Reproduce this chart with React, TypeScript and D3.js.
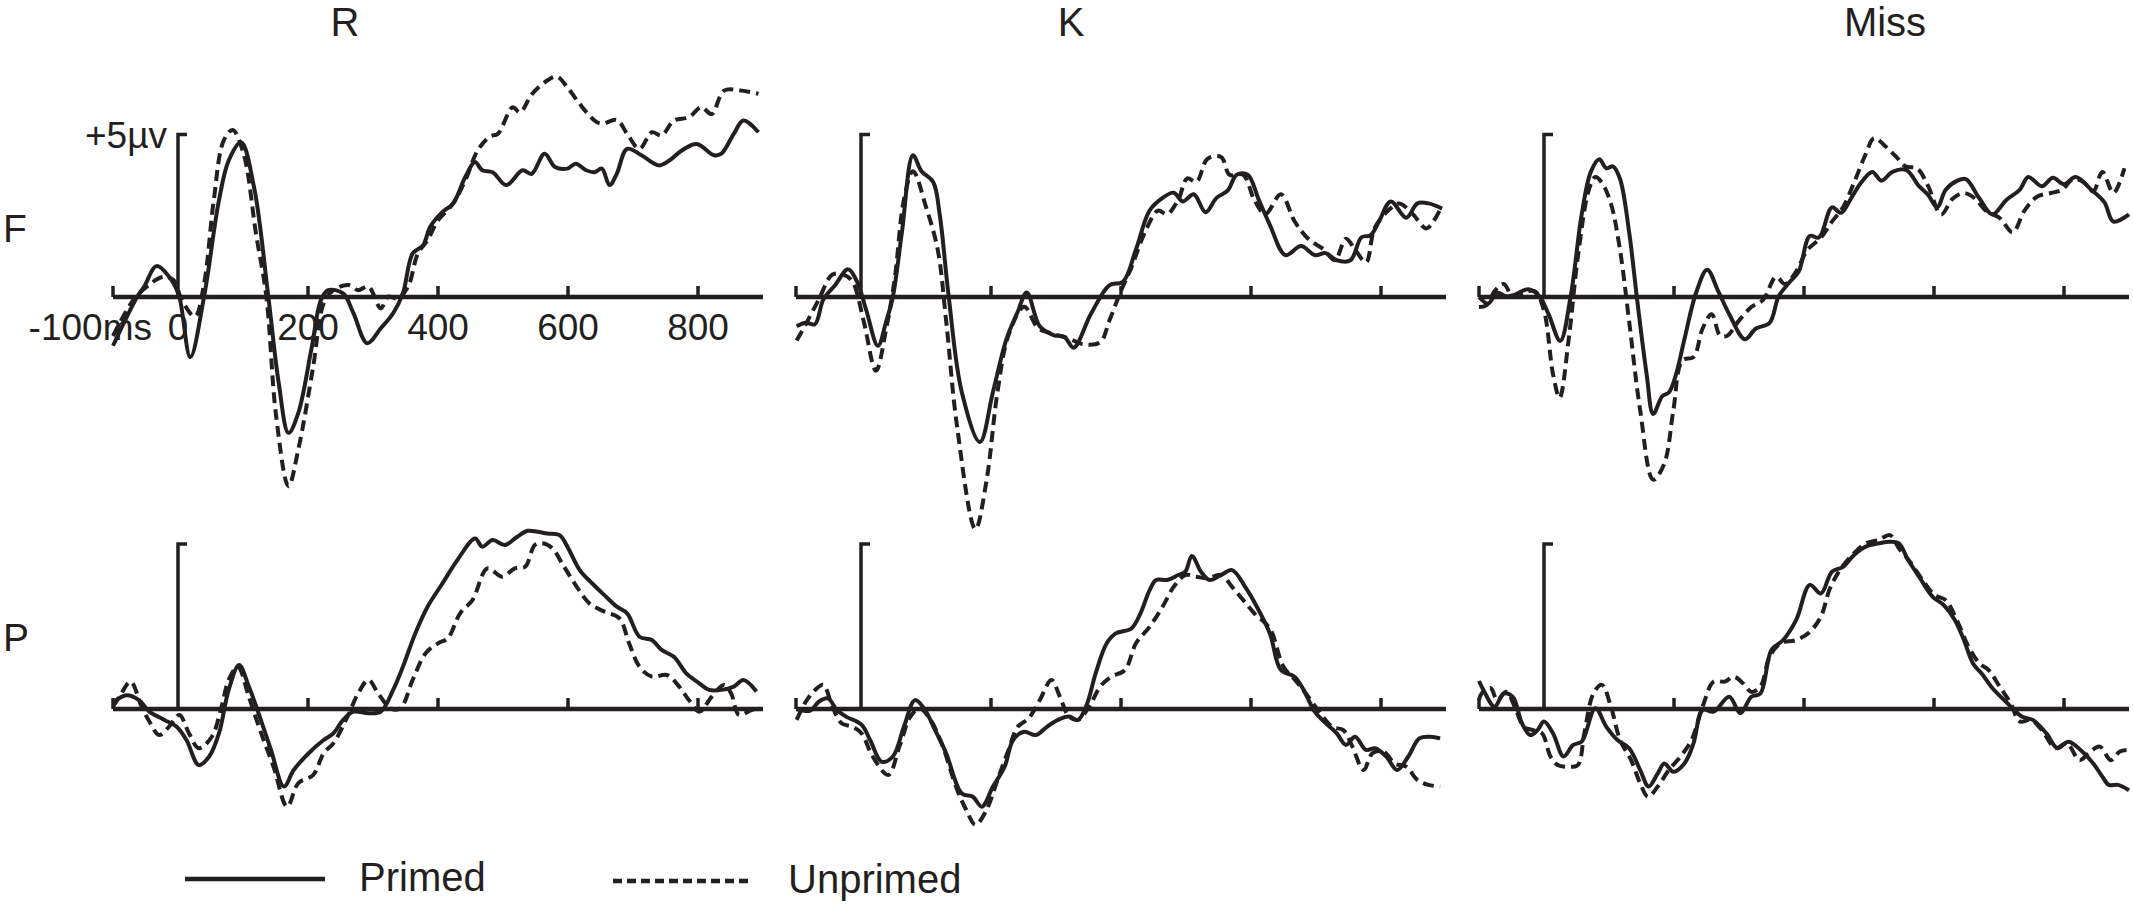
import React from 'react';
import * as d3 from 'd3';

// ---------- DATA (time in ms, amplitude in µV) ----------
const CONDITIONS = ['R', 'K', 'Miss'];
const SITES = ['F', 'P'];
const TIME_TICKS = [-100, 200, 400, 600, 800];
const TICK_LABEL_VALUES = [-100, 0, 200, 400, 600, 800];
const TICK_LABELS = ['-100ms', '0', '200', '400', '600', '800'];
const SCALE_BAR_UV = 5;
const SCALE_LABEL = '+5µv';
const LEGEND_LABELS = ['Primed', 'Unprimed'];

const R_F_primed: [number, number][] = [[-100,-1.5],[-63,0],[-52,0.32],[-33,0.95],[-10,0.52],[2,0],[19,-1.85],[40,0],[63,2.97],[78,4.2],[97,4.76],[117,3.38],[139,0],[155,-2.65],[170,-4.18],[185,-3.57],[205,-1.63],[220,-0.09],[231,0.21],[254,0.11],[270,-0.5],[291,-1.42],[312,-0.96],[331,-0.5],[346,0.11],[361,1.34],[377,1.59],[388,2.16],[407,2.62],[423,2.87],[442,3.69],[457,4.15],[468,3.9],[484,3.84],[505,3.44],[530,3.9],[544,3.79],[564,4.41],[580,4.0],[599,3.95],[612,4.1],[628,3.9],[641,3.84],[652,3.95],[664,3.44],[675,3.79],[691,4.56],[713,4.36],[740,4.05],[756,4.2],[775,4.51],[798,4.71],[825,4.36],[836,4.41],[855,5.02],[870,5.43],[893,5.07]];
const R_F_unprimed: [number, number][] = [[-100,-1.2],[-69,-0.1],[-48,0.32],[-23,0.62],[-7,0.52],[6,-0.1],[26,-0.6],[40,0.4],[55,2.97],[70,4.8],[84,5.14],[101,4.4],[120,1.95],[136,0],[151,-3.67],[170,-5.82],[185,-4.7],[208,-2.14],[224,-0.2],[239,0.21],[262,0.37],[277,0.21],[293,0.32],[312,-0.35],[323,0.01],[338,-0.04],[354,0.32],[369,1.34],[384,1.75],[400,2.36],[423,2.87],[442,3.59],[461,4.51],[480,4.94],[492,5.02],[515,5.84],[526,5.68],[545,6.25],[568,6.66],[583,6.78],[599,6.45],[618,5.94],[641,5.43],[652,5.33],[675,5.45],[691,5.02],[710,4.56],[729,5.07],[744,4.97],[763,5.43],[786,5.53],[805,5.84],[821,5.63],[840,6.35],[867,6.35],[893,6.25]];

const K_F_primed: [number, number][] = [[-99,-0.9],[-85,-0.79],[-71,-0.84],[-58,-0.08],[-40,0.36],[-20,0.85],[-6,0.47],[8,-0.4],[26,-1.5],[39,-0.73],[49,0],[63,2.0],[80,4.36],[93,3.87],[111,3.54],[121,2.55],[135,0],[155,-2.92],[183,-4.46],[203,-2.92],[224,-1.28],[241,-0.46],[255,0.14],[275,-0.9],[296,-1.17],[313,-1.23],[327,-1.56],[354,-0.51],[382,0.36],[403,0.47],[423,1.46],[444,2.66],[464,3.05],[481,3.21],[495,2.94],[512,3.16],[530,2.61],[547,3.05],[564,3.27],[578,3.76],[595,3.76],[612,2.99],[629,2.22],[653,1.29],[677,1.57],[698,1.29],[715,1.35],[732,1.13],[753,1.13],[770,1.84],[784,1.9],[797,2.33],[815,2.94],[839,2.44],[856,2.88],[873,2.88],[894,2.72]];
const K_F_unprimed: [number, number][] = [[-99,-1.34],[-85,-0.84],[-65,-0.08],[-44,0.69],[-27,0.69],[-13,0.47],[4,-0.73],[23,-2.27],[39,-0.95],[52,0.58],[66,2.99],[80,3.87],[100,2.77],[118,1.46],[131,-0.73],[148,-4.02],[176,-7.14],[193,-5.66],[210,-2.92],[227,-1.17],[251,-0.3],[272,-0.95],[293,-1.12],[320,-1.28],[341,-1.45],[368,-1.39],[382,-0.73],[399,0.14],[416,0.91],[437,2.0],[457,2.66],[471,2.55],[488,2.99],[502,3.65],[516,3.54],[533,4.25],[554,4.31],[567,3.76],[588,3.76],[605,2.99],[622,2.55],[646,3.16],[667,2.33],[688,1.79],[712,1.46],[729,1.13],[746,1.79],[760,1.46],[777,1.07],[790,2.11],[811,2.66],[828,2.88],[849,2.55],[870,2.11],[890,2.66]];

const Miss_F_primed: [number, number][] = [[-100,0],[-86,-0.2],[-72,0.13],[-58,0.02],[-45,0.07],[-24,0.24],[-7,0.02],[7,-0.53],[25,-1.35],[41,0.02],[58,2.54],[72,3.85],[85,4.24],[96,3.96],[106,4.02],[117,3.63],[131,1.99],[144,-0.2],[158,-2.39],[168,-3.6],[182,-3.05],[192,-2.94],[203,-2.39],[216,-1.3],[234,0.13],[251,0.84],[268,0.18],[285,-0.53],[309,-1.3],[326,-0.97],[347,-0.8],[361,0.02],[378,0.46],[392,0.79],[409,1.88],[423,1.83],[443,2.76],[457,2.59],[474,3.09],[488,3.52],[505,3.85],[519,3.58],[536,3.85],[557,3.91],[577,3.41],[591,3.14],[605,2.76],[618,3.3],[636,3.58],[649,3.63],[670,3.03],[690,2.54],[711,2.98],[732,3.3],[745,3.69],[766,3.41],[783,3.67],[800,3.47],[818,3.69],[842,3.3],[862,2.92],[876,2.32],[900,2.54]];
const Miss_F_unprimed: [number, number][] = [[-100,-0.31],[-89,-0.26],[-76,0.18],[-62,0.4],[-48,0.02],[-31,0.13],[-14,0.18],[0,-0.42],[14,-2.39],[24,-3.1],[38,-1.3],[52,1.22],[69,3.3],[79,3.69],[89,3.52],[103,2.87],[117,1.44],[131,-0.75],[148,-3.49],[168,-5.62],[185,-5.13],[199,-3.49],[213,-1.95],[230,-1.85],[244,-0.97],[258,-0.53],[271,-1.19],[282,-1.19],[299,-0.75],[319,-0.31],[337,-0.09],[357,0.62],[371,0.4],[388,0.79],[405,1.44],[426,1.83],[443,2.32],[460,2.76],[477,3.52],[495,4.4],[508,4.89],[526,4.62],[543,4.29],[556,4.02],[574,3.96],[591,3.41],[611,2.54],[629,3.03],[646,3.2],[663,3.03],[680,2.65],[701,2.43],[721,1.99],[739,2.65],[759,3.09],[780,3.2],[797,3.3],[814,3.63],[831,3.52],[845,3.25],[859,3.85],[876,3.2],[893,3.96]];

const R_P_primed: [number, number][] = [[-100,0.2],[-79,0.42],[-60,0.27],[-44,-0.08],[-21,-0.33],[-2,-0.54],[13,-0.94],[32,-1.7],[48,-1.44],[63,-0.74],[78,0.58],[94,1.33],[109,0.68],[124,-0.13],[143,-1.24],[163,-2.35],[178,-1.85],[201,-1.34],[224,-0.94],[239,-0.74],[254,-0.33],[270,-0.08],[293,-0.13],[312,-0.08],[331,0.58],[346,1.28],[365,2.29],[384,3.1],[407,3.81],[430,4.52],[457,5.17],[468,4.92],[484,5.12],[503,4.97],[522,5.22],[538,5.4],[553,5.37],[568,5.32],[587,5.27],[599,4.92],[618,4.21],[637,3.81],[656,3.45],[675,3.1],[691,2.9],[710,2.19],[729,2.09],[744,1.79],[763,1.58],[782,1.08],[802,0.78],[817,0.58],[836,0.58],[855,0.68],[870,0.88],[890,0.53]];
const R_P_unprimed: [number, number][] = [[-100,0.07],[-90,0.37],[-73,0.83],[-56,0.07],[-44,-0.38],[-29,-0.79],[-14,-0.54],[2,-0.18],[17,-0.74],[32,-1.19],[52,-0.84],[67,0.07],[78,0.88],[92,1.28],[109,0.37],[128,-0.74],[147,-1.75],[168,-2.96],[185,-2.25],[208,-2.0],[224,-1.34],[239,-1.04],[262,-0.18],[277,0.47],[293,0.88],[308,0.47],[327,0.02],[342,0.02],[361,0.88],[381,1.69],[400,1.99],[415,2.14],[434,2.9],[453,3.3],[476,4.26],[499,4.01],[518,4.26],[534,4.31],[549,4.97],[561,5.02],[576,4.87],[591,4.41],[610,3.81],[633,3.2],[656,2.95],[679,2.75],[694,1.99],[710,1.28],[729,0.98],[752,1.03],[771,0.68],[786,0.27],[802,-0.08],[821,0.37],[840,0.73],[851,0.47],[863,-0.18],[882,-0.03],[893,0.02]];

const K_P_primed: [number, number][] = [[-99,0],[-78,-0.05],[-65,0.22],[-51,0.32],[-37,-0.03],[-23,-0.23],[1,-0.48],[14,-0.94],[32,-1.6],[49,-1.44],[66,-0.54],[83,0.27],[97,0.02],[114,-0.64],[131,-1.34],[155,-2.56],[172,-2.66],[186,-2.96],[203,-2.35],[221,-1.75],[234,-0.94],[251,-0.69],[269,-0.79],[286,-0.54],[303,-0.33],[320,-0.23],[334,-0.33],[348,0.17],[361,1.08],[378,1.99],[392,2.29],[416,2.44],[430,2.9],[444,3.6],[454,3.91],[471,3.91],[488,4.06],[499,4.16],[509,4.64],[523,4.16],[536,3.91],[554,4.06],[571,4.21],[591,3.7],[609,3.1],[629,2.29],[646,1.18],[667,0.98],[681,0.58],[698,-0.08],[715,-0.43],[732,-0.74],[746,-1.09],[760,-0.84],[777,-1.24],[791,-1.19],[808,-1.44],[825,-1.85],[842,-1.44],[859,-0.89],[876,-0.84],[891,-0.89]];
const K_P_unprimed: [number, number][] = [[-99,-0.33],[-85,0.22],[-71,0.57],[-58,0.73],[-44,0.07],[-30,-0.43],[-13,-0.54],[1,-0.74],[18,-1.44],[42,-2.0],[59,-1.14],[76,-0.23],[90,0.02],[107,-0.33],[124,-1.04],[148,-2.45],[162,-3.06],[176,-3.51],[193,-3.06],[210,-2.15],[227,-1.24],[241,-0.54],[258,-0.28],[275,0.27],[293,0.88],[306,0.37],[320,-0.23],[334,-0.33],[351,0.07],[368,0.68],[385,0.98],[406,1.18],[423,1.99],[444,2.49],[464,3.1],[481,3.7],[499,4.06],[516,4.01],[533,3.96],[554,4.06],[571,3.7],[588,3.3],[605,2.9],[629,2.44],[650,1.28],[670,0.83],[688,0.37],[705,-0.08],[725,-0.54],[742,-0.64],[756,-1.14],[773,-1.85],[787,-1.34],[804,-1.29],[821,-1.65],[839,-1.75],[856,-2.15],[873,-2.3],[891,-2.35]];

const Miss_P_primed: [number, number][] = [[-100,0.85],[-93,0.57],[-76,0.07],[-62,0.47],[-48,0.37],[-34,-0.43],[-21,-0.79],[-10,-0.64],[0,-0.38],[14,-0.74],[30,-1.44],[45,-1.09],[58,-0.99],[79,0.02],[96,-0.54],[113,-0.94],[131,-1.19],[148,-1.85],[161,-2.35],[175,-1.95],[185,-1.65],[199,-1.9],[216,-1.65],[230,-1.04],[244,-0.03],[261,-0.08],[285,0.37],[302,-0.13],[319,0.37],[333,0.47],[350,1.79],[368,2.09],[388,2.7],[409,3.76],[426,3.5],[443,4.16],[460,4.31],[477,4.67],[495,4.92],[515,5.02],[532,5.07],[546,5.02],[560,4.52],[577,4.01],[598,3.4],[615,3.15],[632,2.7],[646,2.09],[660,1.38],[673,1.08],[690,0.63],[708,0.27],[721,0.02],[735,-0.23],[752,-0.33],[773,-0.74],[790,-1.19],[807,-0.99],[828,-1.29],[845,-1.65],[859,-2.05],[869,-2.3],[883,-2.3],[900,-2.46]];
const Miss_P_unprimed: [number, number][] = [[-100,0.27],[-96,0.47],[-82,0.63],[-72,0.27],[-58,0.52],[-45,0.07],[-31,-0.54],[-17,-0.64],[-3,-0.74],[10,-1.44],[21,-1.7],[38,-1.75],[52,-1.7],[62,-0.74],[76,0.47],[89,0.73],[103,0.07],[117,-0.94],[134,-1.55],[148,-2.25],[160,-2.66],[175,-2.35],[192,-1.85],[210,-1.44],[227,-0.94],[244,0.07],[261,0.83],[278,0.83],[292,0.98],[306,0.78],[319,0.52],[333,0.68],[347,1.58],[364,1.99],[388,2.09],[409,2.34],[426,2.8],[440,3.66],[457,4.26],[477,4.72],[495,5.02],[515,5.12],[532,5.27],[546,4.87],[563,4.46],[584,3.86],[601,3.45],[618,3.3],[635,2.7],[653,1.89],[670,1.38],[684,1.18],[701,0.68],[718,0.17],[732,-0.38],[749,-0.33],[766,-0.64],[787,-1.19],[804,-1.04],[824,-1.55],[838,-1.34],[855,-1.14],[872,-1.55],[886,-1.29],[900,-1.24]];

const SERIES: Record<string, Record<string, [[number, number][], [number, number][]]>> = {
  F: { R: [R_F_primed, R_F_unprimed], K: [K_F_primed, K_F_unprimed], Miss: [Miss_F_primed, Miss_F_unprimed] },
  P: { R: [R_P_primed, R_P_unprimed], K: [K_P_primed, K_P_unprimed], Miss: [Miss_P_primed, Miss_P_unprimed] },
};

// ---------- LAYOUT ----------
const W = 2133;
const H = 910;
const COL_X0 = [113, 796, 1479];
const PANEL_W = 650;
const ROW_AXIS_Y = [297, 709];
const PX_PER_UV = [32.5, 33];
const TITLE_X = [345, 1071, 1885];
const FONT = '"Liberation Sans", Arial, Helvetica, sans-serif';
const INK = '#231f20';
const DASH = '11,6';

export default function App() {
  return (
    <svg width={W} height={H} style={{ position: 'absolute', left: 0, top: 0, background: '#fff' }} fontFamily={FONT}>
      <rect x={0} y={0} width={W} height={H} fill="#fff" />
      {CONDITIONS.map((c, ci) => (
        <text key={c} x={TITLE_X[ci]} y={36} fontSize={40} textAnchor="middle" fill={INK}>{c}</text>
      ))}
      {SITES.map((s, si) => (
        <text key={s} x={3} y={si === 0 ? 242 : 651} fontSize={39} fill={INK}>{s}</text>
      ))}
      {SITES.map((s, si) =>
        CONDITIONS.map((c, ci) => {
          const x = d3.scaleLinear().domain([-100, 900]).range([COL_X0[ci], COL_X0[ci] + PANEL_W]);
          const y = d3.scaleLinear().domain([0, SCALE_BAR_UV]).range([ROW_AXIS_Y[si], ROW_AXIS_Y[si] - SCALE_BAR_UV * PX_PER_UV[si]]);
          const line = d3.line<[number, number]>().x(d => x(d[0])).y(d => y(d[1])).curve(d3.curveCatmullRom.alpha(0.5));
          const [primed, unprimed] = SERIES[s][c];
          const y0 = y(0);
          const showLabels = si === 0 && ci === 0;
          return (
            <g key={s + c}>
              <line x1={x(-100)} x2={x(900)} y1={y0} y2={y0} stroke={INK} strokeWidth={4.5} />
              {TIME_TICKS.map(t => (
                <line key={t} x1={x(t)} x2={x(t)} y1={y0} y2={y0 - 11} stroke={INK} strokeWidth={3.5} />
              ))}
              <path d={`M${x(0)},${y0} V${y(SCALE_BAR_UV)} h9`} fill="none" stroke={INK} strokeWidth={3.5} />
              {showLabels && (
                <g fontSize={37} fill={INK}>
                  <text x={x(0) - 11} y={y(SCALE_BAR_UV) + 13} textAnchor="end">{SCALE_LABEL}</text>
                  {TICK_LABEL_VALUES.map((t, i) => (
                    <text key={t} x={t === -100 ? x(t) + 39 : x(t)} y={y0 + 43} textAnchor={t === -100 ? 'end' : 'middle'}>{TICK_LABELS[i]}</text>
                  ))}
                </g>
              )}
              <path d={line(unprimed) || ''} fill="none" stroke={INK} strokeWidth={4} strokeDasharray={DASH} />
              <path d={line(primed) || ''} fill="none" stroke={INK} strokeWidth={4} />
            </g>
          );
        })
      )}
      <g fill={INK}>
        <line x1={185} x2={325} y1={879} y2={879} stroke={INK} strokeWidth={4.5} />
        <text x={359} y={891} fontSize={40}>{LEGEND_LABELS[0]}</text>
        <line x1={613} x2={753} y1={881} y2={881} stroke={INK} strokeWidth={4.5} strokeDasharray="9,5" />
        <text x={788} y={893} fontSize={40}>{LEGEND_LABELS[1]}</text>
      </g>
    </svg>
  );
}
